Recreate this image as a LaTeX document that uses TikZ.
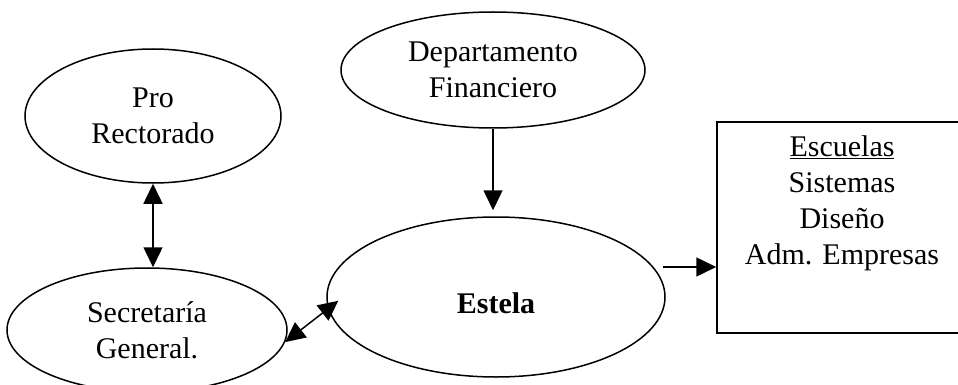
\documentclass[tikz,border=0pt]{standalone}
\usepackage{fontspec}
\setmainfont{Liberation Serif}
\usetikzlibrary{arrows.meta,positioning,shapes.geometric}

\tikzset{
  oval/.style={draw, ellipse, line width=1.5pt, inner sep=0pt, align=center},
  caja/.style={draw, rectangle, line width=1.5pt, inner sep=0pt},
  punta/.tip={Triangle[length=20pt,width=19pt]},
  flecha/.style={line width=1.5pt, -punta},
  doble/.style={line width=1.5pt, punta-punta}
}

\begin{document}
\begin{tikzpicture}[x=1pt,y=-1pt,font=\fontsize{30}{36}\selectfont]
	\useasboundingbox (0,0) rectangle (958,385);
	\node[oval, minimum width=256pt, minimum height=134pt] (pro) at (153,116) {Pro\\Rectorado};
	\node[oval, minimum width=304pt, minimum height=116pt] (depto) at (493,70) {Departamento\\Financiero};
	\node[oval, minimum width=280pt, minimum height=124pt] (secre) at (147,330) {Secretaría\\General.};
	\node[oval, minimum width=338pt, minimum height=160pt, text height=32pt, text depth=0pt, font=\fontsize{30}{36}\selectfont\bfseries] (estela) at (496,297) {Estela};
	\node[caja, minimum width=250pt, minimum height=211pt] (escuelas) at (842,227.5) {};
	\node[below=14pt of escuelas.north, inner sep=0pt, align=center] (lista) {\underline{Escuelas}\\Sistemas\\Diseño\\Adm. Empresas};
	\coordinate (desde) at (663,267);
	% conexiones
	\draw[doble] (pro.south) -- (secre.north -| pro.south);
	\draw[flecha, shorten >=6pt] (depto.south) -- (depto.south |- estela.north);
	\draw[doble, shorten >=-13pt] (secre.-5) -- (estela.184);
	\draw[flecha] (desde) -- (desde -| escuelas.west);
\end{tikzpicture}
\end{document}
